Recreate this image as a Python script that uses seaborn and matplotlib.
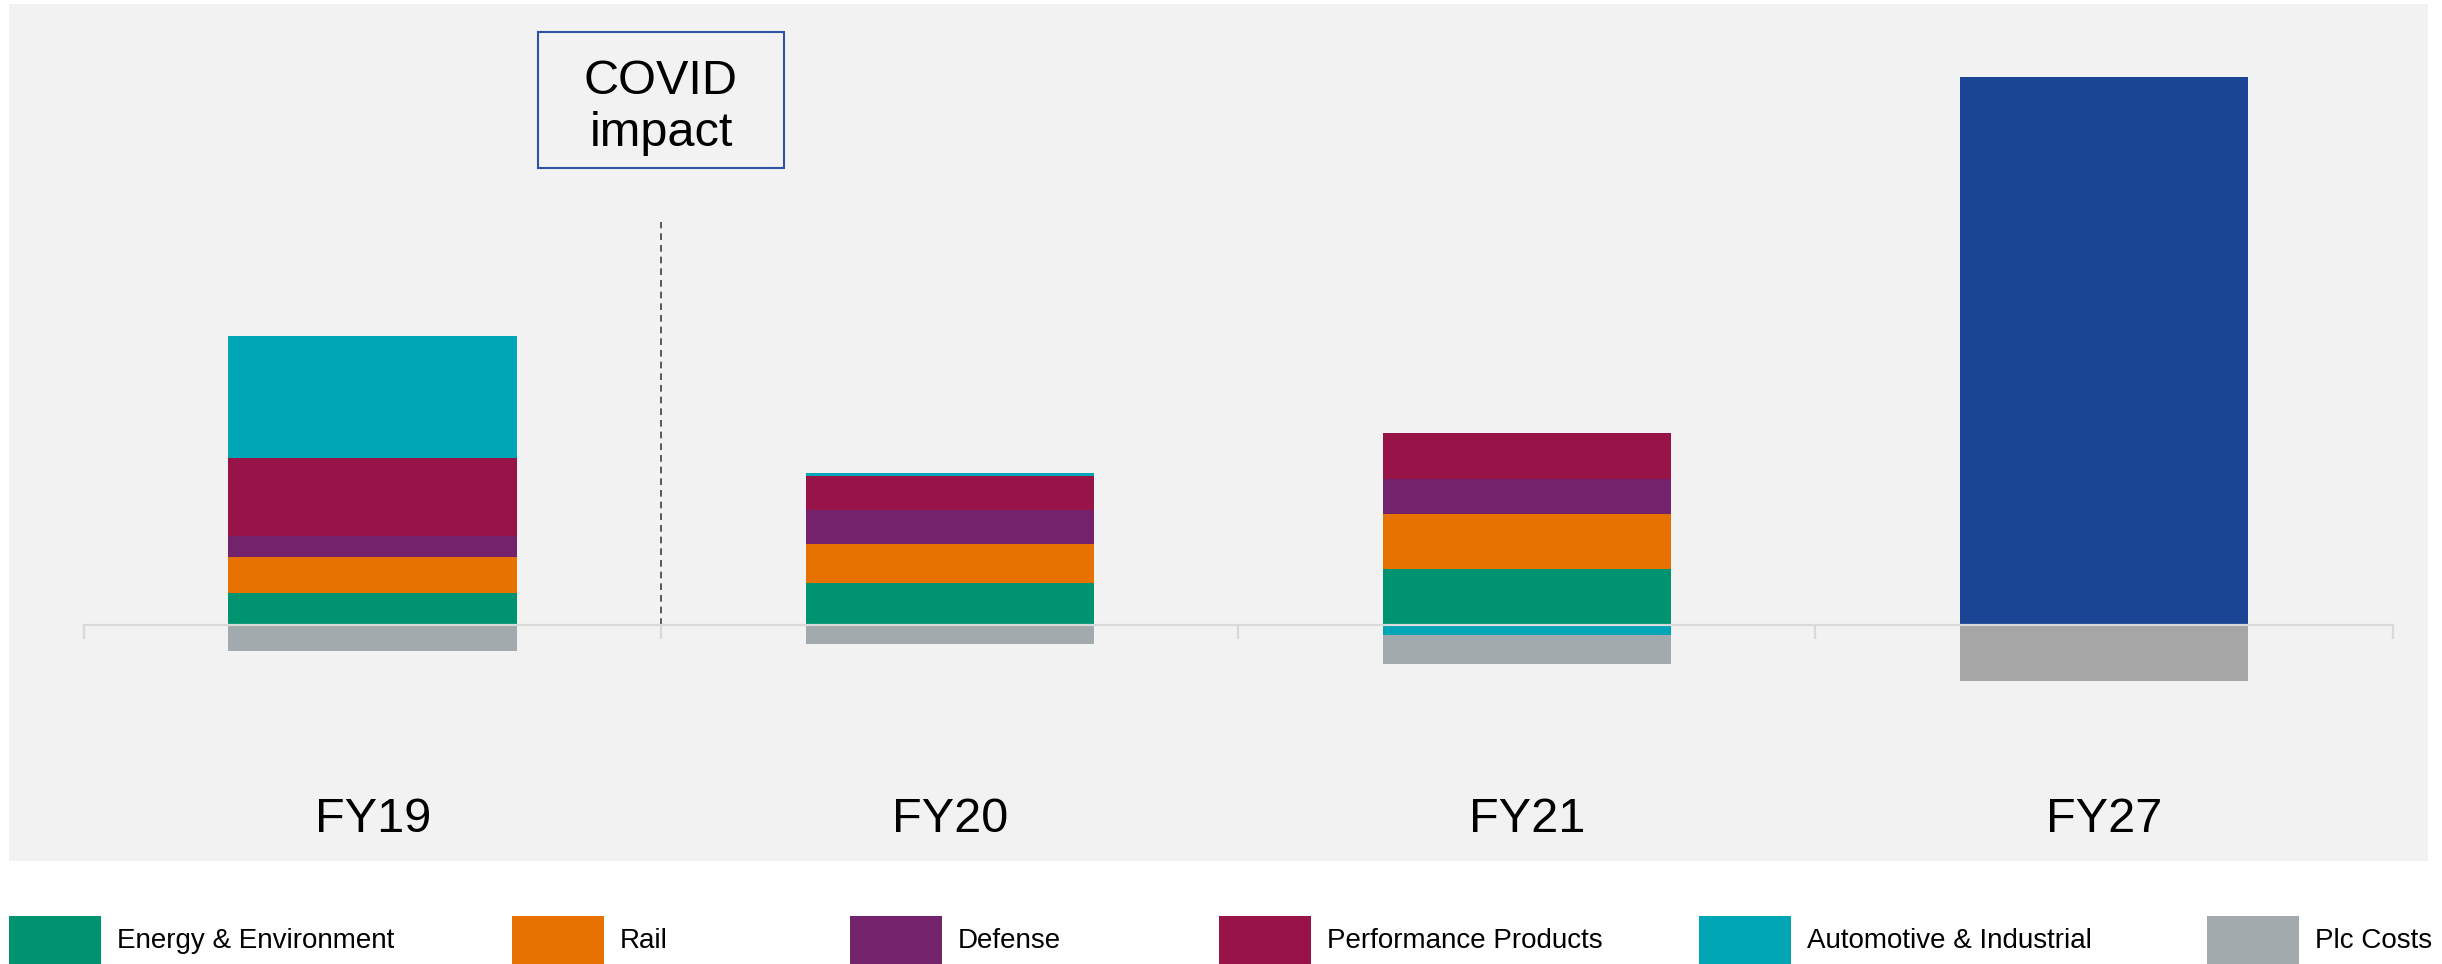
import matplotlib
matplotlib.use("Agg")
import matplotlib.pyplot as plt
import matplotlib.patches as mpatches
import seaborn as sns
import numpy as np

# ---------------- data ----------------
years = ["FY19", "FY20", "FY21", "FY27"]
energy = [5.9, 7.6, 10.3, 0.0]
rail = [6.5, 7.1, 9.9, 0.0]
defense = [3.8, 6.3, 6.5, 0.0]
performance = [14.2, 6.1, 8.4, 0.0]
automotive = [22.4, 0.7, -1.8, 0.0]
target = [0.0, 0.0, 0.0, 100.0]
plc_costs = [-4.7, -3.5, -5.3, -10.2]

legend_labels = ["Energy & Environment", "Rail", "Defense",
                 "Performance Products", "Automotive & Industrial", "Plc Costs"]

# ---------------- style ----------------
C_ENERGY = "#00936F"
C_RAIL = "#E87200"
C_DEF = "#74226C"
C_PERF = "#981448"
C_AUTO = "#00A6B6"
C_PLC = "#A3AAAD"
C_TARGET = "#1A4595"
C_TARGET_PLC = "#A6A6A6"
BG = "#F2F2F2"
AXIS = "#D9D9D9"

sns.set_style("white")
plt.rcParams["font.family"] = ["Liberation Sans", "DejaVu Sans"]

W, H = 2442, 964
fig = plt.figure(figsize=(W / 100, H / 100), dpi=100, facecolor="white")
ax_l, ax_r, ax_t, ax_b = 9, 2427.5, 4, 860.5
ax = fig.add_axes([ax_l / W, 1 - ax_b / H, (ax_r - ax_l) / W, (ax_b - ax_t) / H])
ax.set_facecolor(BG)

# stacking
pos_series = [(energy, C_ENERGY), (rail, C_RAIL), (defense, C_DEF),
              (performance, C_PERF), (automotive, C_AUTO)]
pos_bottom = np.zeros(len(years))
neg_bottom = np.zeros(len(years))
for vals, col in pos_series:
    v = np.array(vals, dtype=float)
    bottoms = np.where(v >= 0, pos_bottom, neg_bottom)
    sns.barplot(x=years, y=list(v), bottom=list(bottoms), color=col,
                width=0.5, linewidth=0, saturation=1, ax=ax, errorbar=None)
    pos_bottom = pos_bottom + np.where(v >= 0, v, 0)
    neg_bottom = neg_bottom + np.where(v < 0, v, 0)

sns.barplot(x=years, y=target, bottom=list(pos_bottom), color=C_TARGET,
            width=0.5, linewidth=0, saturation=1, ax=ax, errorbar=None)

sns.barplot(x=years, y=plc_costs, bottom=list(neg_bottom), color=C_PLC,
            width=0.5, linewidth=0, saturation=1, ax=ax, errorbar=None)
ax.containers[-1][3].set_facecolor(C_TARGET_PLC)

# scales
scale = 5.48  # px per unit
zero_px = 625
ax.set_ylim(-(ax_b - zero_px) / scale, (zero_px - ax_t) / scale)
centers_px = [372.7, 950.0, 1527.0, 2104.0]
step = 577.1
ax.set_xlim(-(centers_px[0] - ax_l) / step, 3 + (ax_r - centers_px[3]) / step)

# axes decorations
for s in ["left", "right", "top"]:
    ax.spines[s].set_visible(False)
ax.spines["bottom"].set_position(("data", 0))
ax.spines["bottom"].set_bounds(-0.5, 3.5)
ax.spines["bottom"].set_color(AXIS)
ax.spines["bottom"].set_linewidth(1.6)
ax.spines["bottom"].set_zorder(5)
ax.set_yticks([])
ax.set_ylabel("")
ax.set_xlabel("")
ax.set_xticks(range(len(years)))
ax.set_xticklabels(years, fontsize=35, color="black")
ax.set_xticks([-0.5, 0.5, 1.5, 2.5, 3.5], minor=True)
ax.tick_params(axis="x", which="major", bottom=True, length=0, pad=124)
ax.tick_params(axis="x", which="minor", bottom=True, length=10, width=1.6,
               color=AXIS, direction="out")

# COVID divider
ax.vlines(0.5, 0, (zero_px - 222) / scale, colors="#3F3F3F",
          linestyles=(0, (4, 3)), linewidth=1.2, zorder=4)

bx0, by0, bx1, by1 = 537.7, 31.7, 784.0, 168.3
fig.add_artist(mpatches.Rectangle((bx0 / W, 1 - by1 / H), (bx1 - bx0) / W,
                                  (by1 - by0) / H, transform=fig.transFigure,
                                  facecolor="none", edgecolor="#2E54A1",
                                  linewidth=1.5))
fig.text(661 / W, 1 - 107 / H, "COVID\nimpact", ha="center", va="center",
         fontsize=35, linespacing=1.2, color="black")

# legend (manual row)
leg_colors = [C_ENERGY, C_RAIL, C_DEF, C_PERF, C_AUTO, C_PLC]
leg_lefts = [9, 512, 850, 1219, 1699, 2207]
for lab, col, lx in zip(legend_labels, leg_colors, leg_lefts):
    fig.add_artist(mpatches.Rectangle((lx / W, 0), 92 / W, 48 / H,
                                      transform=fig.transFigure,
                                      facecolor=col, edgecolor="none"))
    fig.text((lx + 108) / W, 1 - 948 / H, lab, ha="left", va="baseline",
             fontsize=20, color="black")

fig.savefig("out.png", dpi=100, facecolor="white")
